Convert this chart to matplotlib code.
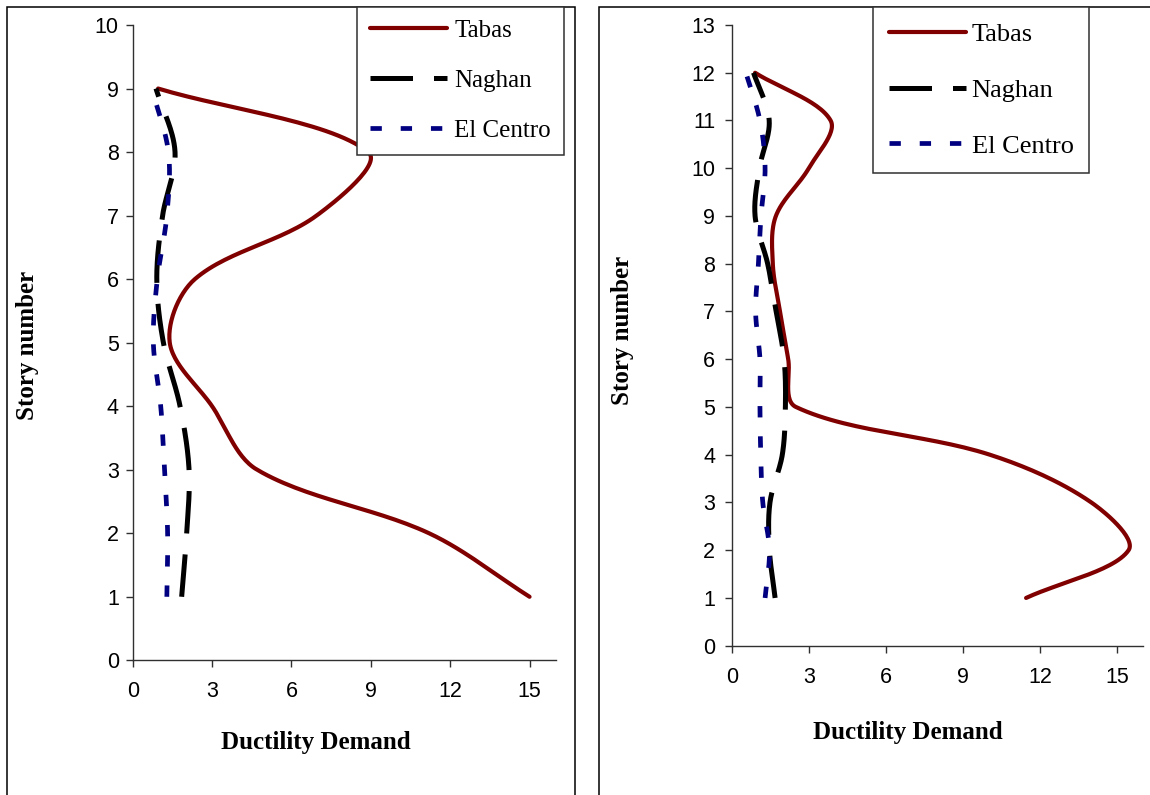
"""Story-wise ductility demand for two frames under three records."""

import matplotlib

matplotlib.use("Agg")

import matplotlib.pyplot as plt
import numpy as np
from matplotlib.lines import Line2D
from matplotlib.patches import Rectangle

RECORDS = ["Tabas", "Naghan", "El Centro"]

# 9-story frame
stories_9 = [1, 2, 3, 4, 5, 6, 7, 8, 9]
tabas_9 = [15.0, 11.2, 4.7, 3.0, 1.4, 2.35, 6.95, 8.9, 0.96]
naghan_9 = [1.85, 2.04, 2.13, 1.79, 1.16, 0.91, 1.13, 1.6, 0.88]
elcentro_9 = [1.29, 1.32, 1.2, 1.06, 0.78, 0.93, 1.29, 1.35, 0.72]

# 12-story frame
stories_12 = [1, 2, 3, 4, 5, 6, 7, 8, 9, 10, 11, 12]
tabas_12 = [11.46, 15.45, 14.0, 10.05, 2.5, 2.2, 1.88, 1.6, 1.72, 3.0, 3.85, 0.91]
naghan_12 = [1.69, 1.47, 1.49, 1.97, 2.09, 2.04, 1.73, 1.4, 0.91, 1.08, 1.46, 0.85]
elcentro_12 = [1.3, 1.47, 1.21, 1.13, 1.1, 1.1, 0.93, 1.04, 1.14, 1.3, 1.1, 0.55]

STYLES = {
    "Tabas": dict(color="#800000", lw=3.0, ls="-", solid_capstyle="round"),
    "Naghan": dict(color="black", lw=3.6, ls=(0, (8.5, 4.2))),
    "El Centro": dict(color="#000080", lw=3.4, ls=(0, (2.4, 4.0))),
}

SERIF = ["Liberation Serif", "DejaVu Serif"]
SANS = ["Liberation Sans", "DejaVu Sans"]


def _smooth(xs, ys, sx, sy, steps=30):
    """Bezier smoothing through every point, tangents scaled by chord length."""
    p = np.column_stack([np.asarray(xs, float) * sx, np.asarray(ys, float) * sy])
    ext = np.vstack([p[0], p, p[-1]])
    t = np.linspace(0, 1, steps, endpoint=False)[:, None]
    parts = []
    for i in range(len(p) - 1):
        p0, p1, p2, p3 = ext[i], ext[i + 1], ext[i + 2], ext[i + 3]
        d01 = np.hypot(*(p1 - p0))
        d12 = np.hypot(*(p2 - p1))
        d23 = np.hypot(*(p3 - p2))
        c1 = p1 + (p2 - p0) * d12 / (d01 + d12) / 3
        c2 = p2 - (p3 - p1) * d12 / (d12 + d23) / 3
        parts.append((1 - t) ** 3 * p1 + 3 * (1 - t) ** 2 * t * c1
                     + 3 * (1 - t) * t ** 2 * c2 + t ** 3 * p2)
    parts.append(p[-1:])
    out = np.vstack(parts)
    return out[:, 0] / sx, out[:, 1] / sy


def _panel(fig, rect, stories, series, ymax, ytick_pad):
    ax = fig.add_axes(rect)
    # pixel size of one data unit, used to smooth in screen space
    sx = rect[2] * W / 16
    sy = rect[3] * H / ymax
    for name, values in zip(RECORDS, series):
        x, y = _smooth(values, stories, sx, sy)
        ax.plot(x, y, **STYLES[name])
    ax.set_xlim(0, 16)
    ax.set_ylim(0, ymax)
    ax.set_xticks(range(0, 16, 3))
    ax.set_yticks(range(0, ymax + 1))
    for side in ("top", "right"):
        ax.spines[side].set_visible(False)
    for side in ("left", "bottom"):
        ax.spines[side].set_color("#303030")
        ax.spines[side].set_linewidth(1.0)
    ax.tick_params(axis="x", length=5, width=1, pad=10, colors="#303030",
                   labelcolor="black", labelsize=15.5)
    ax.tick_params(axis="y", length=5, width=1, pad=ytick_pad, colors="#303030",
                   labelcolor="black", labelsize=15.5)
    for lab in ax.get_xticklabels() + ax.get_yticklabels():
        lab.set_fontfamily(SANS)
    ax.set_facecolor("none")
    return ax


W, H = 1150, 795
fig = plt.figure(figsize=(W / 100, H / 100), dpi=100)


def fx(px):
    return px / W


def fy(py):
    return 1 - py / H


# outer frames of the two panels
for x0, x1 in [(7, 575), (599, 1160)]:
    fig.patches.append(Rectangle((fx(x0), -0.05), fx(x1) - fx(x0), fy(7) + 0.05,
                                 transform=fig.transFigure, fill=False,
                                 edgecolor="black", lw=1.1))

_panel(fig, [fx(132.7), fy(660.3), fx(556) - fx(132.7), fy(25) - fy(660.3)],
       stories_9, [tabas_9, naghan_9, elcentro_9], 10, 5)
_panel(fig, [fx(731.7), fy(645.7), fx(1142.7) - fx(731.7), fy(25) - fy(645.7)],
       stories_12, [tabas_12, naghan_12, elcentro_12], 13, 7)

label_kw = dict(fontsize=18, fontweight="bold", family=SERIF)
fig.text(fx(316), fy(742), "Ductility Demand", ha="center", va="center", **label_kw)
fig.text(fx(908), fy(732), "Ductility Demand", ha="center", va="center", **label_kw)
fig.text(fx(28), fy(345), "Story number", rotation=90, ha="center", va="center", **label_kw)
fig.text(fx(623), fy(330), "Story number", rotation=90, ha="center", va="center", **label_kw)

handles = [Line2D([], [], **STYLES[name]) for name in RECORDS]
legend_boxes = [
    (357, 18, dict(handlelength=3.1, handletextpad=0.3, borderpad=0.5, labelspacing=1.1)),
    (872.7, 19, dict(handlelength=2.95, handletextpad=0.2, borderpad=0.6, labelspacing=1.22)),
]
for left, size, opts in legend_boxes:
    leg = fig.legend(handles, RECORDS, loc="upper left",
                     bbox_to_anchor=(fx(left), fy(7)), borderaxespad=0,
                     prop=dict(family=SERIF, size=size), frameon=True,
                     fancybox=False, edgecolor="#303030", framealpha=1, **opts)
    leg.get_frame().set_linewidth(1.1)

fig.savefig("out.png", dpi=100)
plt.close(fig)
